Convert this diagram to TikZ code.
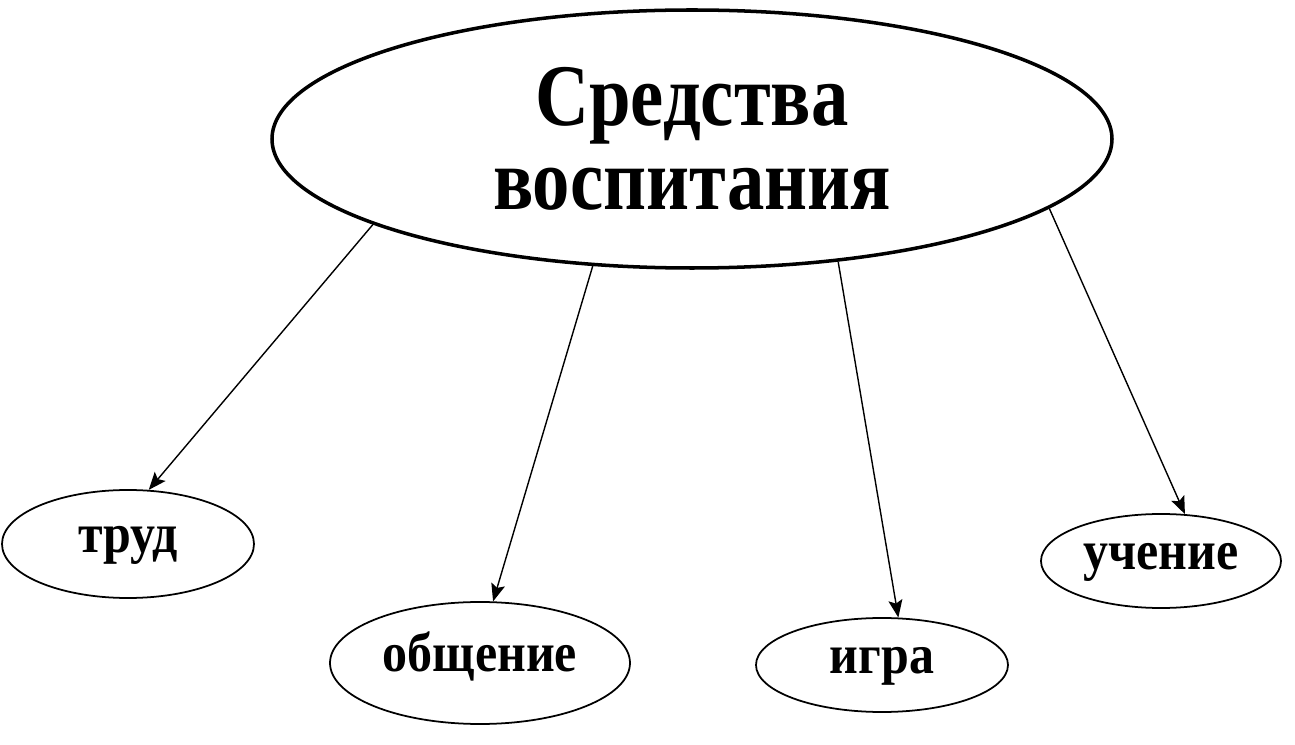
\documentclass[tikz,border=0pt]{standalone}
\usepackage{fontspec}
\usepackage{tikz}
\usetikzlibrary{arrows.meta,shapes.geometric}
\setmainfont{Liberation Serif}
\newfontfamily\narrowfont[FakeStretch=0.85]{Liberation Serif}
\newfontfamily\wordfont[FakeStretch=0.9]{Liberation Serif}

\tikzset{
  bigoval/.style={draw,ellipse,line width=1pt,inner sep=0pt,minimum width=8.4cm,minimum height=2.58cm,
    align=center,font=\narrowfont\bfseries\fontsize{25}{24}\selectfont},
  oval/.style={draw,ellipse,line width=0.5pt,inner sep=0pt,text height=1ex,text depth=0pt,
    font=\wordfont\bfseries\fontsize{15.8}{18}\selectfont},
  arrow/.style={-{Stealth[length=5pt,width=4pt,inset=1pt]},line width=0.4pt}
}

\begin{document}
\begin{tikzpicture}
\useasboundingbox (0,0) rectangle (12.95,-7.45);
\node[bigoval] (sredstva) at (6.92,-1.39) {Средства\\воспитания};
\node[oval,minimum width=2.52cm,minimum height=1.08cm] (trud) at (1.28,-5.44) {труд};
\node[oval,minimum width=3.0cm,minimum height=1.22cm] (obshchenie) at (4.80,-6.63) {общение};
\node[oval,minimum width=2.52cm,minimum height=0.94cm] (igra) at (8.82,-6.65) {игра};
\node[oval,minimum width=2.40cm,minimum height=0.94cm] (uchenie) at (11.61,-5.61) {учение};
\draw[arrow] (sredstva.-165.5) -- (trud.69);
\draw[arrow] (sredstva.-128.9) -- (obshchenie.78.7);
\draw[arrow] (sredstva.-40.6) -- (igra.71.6);
\draw[arrow] (sredstva.-11.9) -- (uchenie.63.9);
\end{tikzpicture}
\end{document}
